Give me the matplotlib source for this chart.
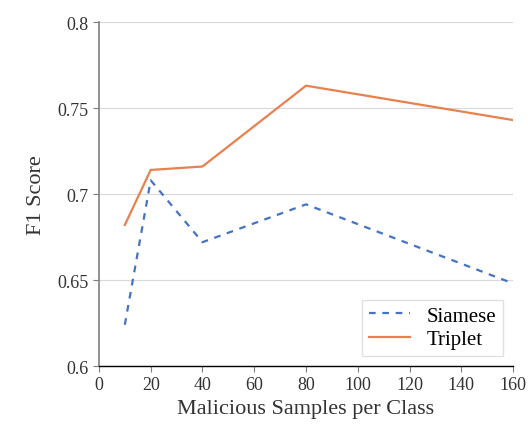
import matplotlib
matplotlib.use("Agg")
import matplotlib.pyplot as plt

plt.rcParams['font.family'] = ['Liberation Serif', 'DejaVu Serif']

samples = [10, 20, 40, 80, 160]
siamese = [0.624, 0.708, 0.672, 0.694, 0.648]
triplet = [0.682, 0.714, 0.716, 0.763, 0.743]

fig = plt.figure(figsize=(5.29, 4.27), dpi=100)
ax = fig.add_axes([0.187, 0.1405, 0.783, 0.8055])

ax.plot(samples, siamese, '--', color='#4472C4', lw=1.6, dashes=(3, 3), label='Siamese')
ax.plot(samples, triplet, '-', color='#E8804F', lw=1.6, label='Triplet')

ax.set_xlim(0, 160)
ax.set_ylim(0.6, 0.8)
ax.set_xticks(range(0, 161, 20))
ax.set_yticks([0.6, 0.65, 0.7, 0.75, 0.8])
ax.set_yticklabels(['0.6', '0.65', '0.7', '0.75', '0.8'])
ax.grid(axis='y', color='#d9d9d9', lw=0.8)
ax.set_axisbelow(True)

for s in ['top', 'right']:
    ax.spines[s].set_visible(False)
ax.spines['left'].set_color('#7f7f7f')
ax.spines['left'].set_linewidth(1.2)
ax.spines['bottom'].set_color('black')
ax.spines['bottom'].set_linewidth(1.0)
ax.tick_params(axis='y', colors='#7f7f7f', labelcolor='#333333', labelsize=13, length=4)
ax.tick_params(axis='x', colors='#7f7f7f', labelcolor='#333333', labelsize=13, length=4)

ax.set_xlabel('Malicious Samples per Class', fontsize=16, color='#333333')
ax.set_ylabel('F1 Score', fontsize=16, color='#333333', labelpad=8)

ax.legend(loc='lower right', fontsize=15, frameon=True, fancybox=False,
          edgecolor='#d9d9d9', handlelength=2.0, borderpad=0.3, labelspacing=0.2)

fig.savefig('out.png', dpi=100)
